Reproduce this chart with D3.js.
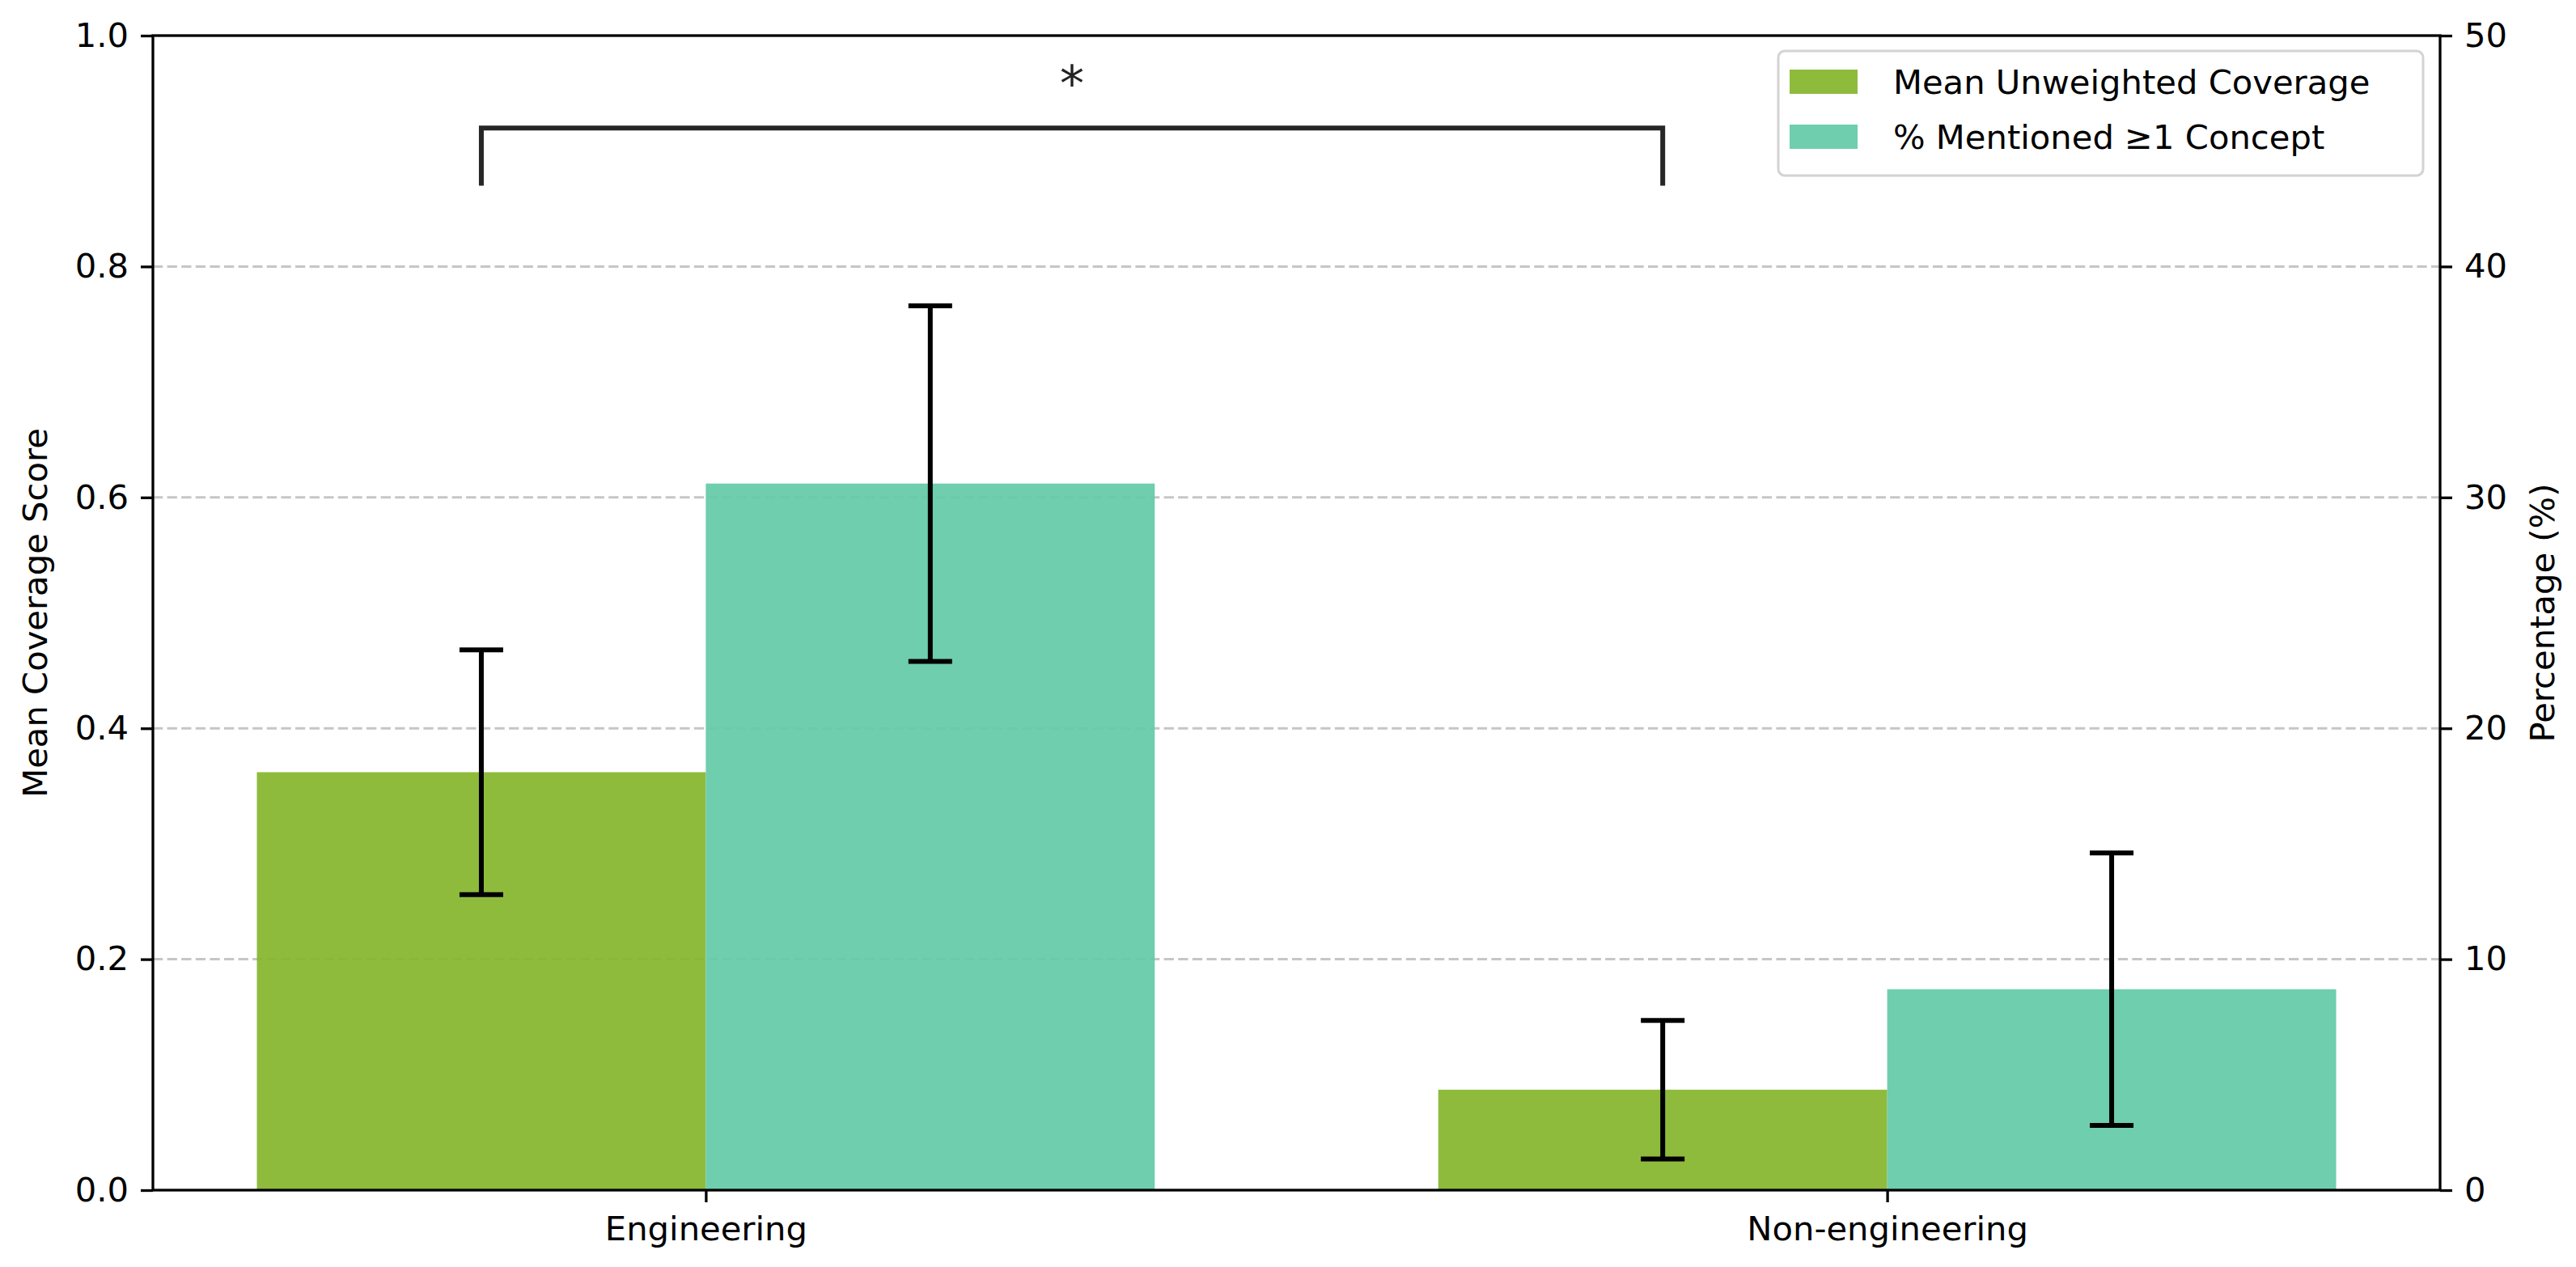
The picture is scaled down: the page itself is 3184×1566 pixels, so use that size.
<!DOCTYPE html>
<html>
<head>
<meta charset="utf-8">
<script src="https://cdn.jsdelivr.net/npm/d3@7"></script>
<style>
  body { margin: 0; background: #fff; }
  text { font-family: "DejaVu Sans", sans-serif; }
</style>
</head>
<body>
<svg id="chart" width="3184" height="1566"></svg>
<script>
// values
var categories = ["Engineering", "Non-engineering"];
var seriesNames = ["Mean Unweighted Coverage", "% Mentioned \u22651 Concept"];
var coverageMean = [0.362, 0.087];
var coverageErr = [0.106, 0.060];
var mentionedPct = [30.6, 8.7];
var mentionedErr = [7.7, 5.9];
var leftTicks = [0, 0.2, 0.4, 0.6, 0.8, 1.0];
var rightTicks = [0, 10, 20, 30, 40, 50];
var sigBracketTop = 0.92, sigBracketLeg = 0.87, sigLabel = "*";

var colGreen = "#86b52d", colTeal = "#62caa6";
var barW = 0.38;
var fs = 41.7;

var svg = d3.select("#chart");
var W = 3184, H = 1566;
var m = {left: 189, right: W - 3016, top: 44, bottom: H - 1471};

var x = d3.scaleLinear()
    .domain([-barW - 0.088, categories.length - 1 + barW + 0.088])
    .range([m.left, W - m.right]);
var yL = d3.scaleLinear().domain([0, 1]).range([H - m.bottom, m.top]);
var yR = d3.scaleLinear().domain([0, 50]).range([H - m.bottom, m.top]);

// grid
svg.append("g").selectAll("line").data(leftTicks.slice(1, -1)).enter().append("line")
    .attr("x1", m.left).attr("x2", W - m.right)
    .attr("y1", function(d) { return yL(d); }).attr("y2", function(d) { return yL(d); })
    .attr("stroke", "#c6c6c6").attr("stroke-width", 3)
    .attr("stroke-dasharray", "12.3,5.3");

// bars
var g = svg.append("g");
categories.forEach(function(c, i) {
    g.append("rect")
        .attr("x", x(i - barW)).attr("width", x(i) - x(i - barW))
        .attr("y", yL(coverageMean[i])).attr("height", yL(0) - yL(coverageMean[i]))
        .attr("fill", colGreen).attr("fill-opacity", 0.92);
    g.append("rect")
        .attr("x", x(i)).attr("width", x(i + barW) - x(i))
        .attr("y", yR(mentionedPct[i])).attr("height", yR(0) - yR(mentionedPct[i]))
        .attr("fill", colTeal).attr("fill-opacity", 0.92);
});

// error bars
function errBar(cx, y0, y1) {
    var cap = 27;
    g.append("line").attr("x1", cx).attr("x2", cx).attr("y1", y0).attr("y2", y1)
        .attr("stroke", "#000").attr("stroke-width", 6);
    [y0, y1].forEach(function(yy) {
        g.append("line").attr("x1", cx - cap).attr("x2", cx + cap).attr("y1", yy).attr("y2", yy)
            .attr("stroke", "#000").attr("stroke-width", 6);
    });
}
categories.forEach(function(c, i) {
    errBar(x(i - barW / 2), yL(coverageMean[i] - coverageErr[i]), yL(coverageMean[i] + coverageErr[i]));
    errBar(x(i + barW / 2), yR(mentionedPct[i] - mentionedErr[i]), yR(mentionedPct[i] + mentionedErr[i]));
});

// significance bracket between the coverage bars
var bx0 = x(0 - barW / 2), bx1 = x(1 - barW / 2);
svg.append("path")
    .attr("d", "M" + bx0 + "," + yL(sigBracketLeg) + "V" + yL(sigBracketTop) +
        "H" + bx1 + "V" + yL(sigBracketLeg))
    .attr("fill", "none").attr("stroke", "#262626").attr("stroke-width", 6);
svg.append("text")
    .attr("x", (bx0 + bx1) / 2).attr("y", yL(0.93) - 0.33 * 60)
    .attr("text-anchor", "middle").attr("font-size", 60).attr("fill", "#222")
    .text(sigLabel);

// axes
function styleAxis(sel) {
    sel.selectAll("text").attr("font-size", fs).attr("fill", "#000")
        .style("font-family", "'DejaVu Sans', sans-serif");
    sel.selectAll("line").attr("stroke", "#000").attr("stroke-width", 3.3);
    sel.select(".domain").remove();
}
svg.append("g").attr("transform", "translate(" + m.left + ",0)")
    .call(d3.axisLeft(yL).tickValues(leftTicks).tickFormat(d3.format(".1f")).tickSize(15).tickPadding(15))
    .call(styleAxis);
svg.append("g").attr("transform", "translate(" + (W - m.right) + ",0)")
    .call(d3.axisRight(yR).tickValues(rightTicks).tickFormat(d3.format("d")).tickSize(15).tickPadding(15))
    .call(styleAxis);
svg.append("g").attr("transform", "translate(0," + (H - m.bottom) + ")")
    .call(d3.axisBottom(x).tickValues(d3.range(categories.length))
        .tickFormat(function(d) { return categories[d]; }).tickSize(15).tickPadding(17))
    .call(styleAxis);

// frame
svg.append("rect").attr("x", m.left).attr("y", m.top)
    .attr("width", W - m.left - m.right).attr("height", H - m.top - m.bottom)
    .attr("fill", "none").attr("stroke", "#000").attr("stroke-width", 3.3);

// axis titles
var midY = (m.top + H - m.bottom) / 2;
svg.append("text").attr("transform", "translate(43," + midY + ") rotate(-90)")
    .attr("text-anchor", "middle").attr("dominant-baseline", "central")
    .attr("font-size", fs).text("Mean Coverage Score");
svg.append("text").attr("transform", "translate(3142," + midY + ") rotate(-90)")
    .attr("text-anchor", "middle").attr("dominant-baseline", "central")
    .attr("font-size", fs).text("Percentage (%)");

// legend
var lgX = 2198, lgY = 63, lgW = W - m.right - 21 - lgX, lgH = 154;
var lg = svg.append("g");
lg.append("rect").attr("x", lgX).attr("y", lgY).attr("width", lgW).attr("height", lgH)
    .attr("rx", 8).attr("fill", "#fff").attr("fill-opacity", 0.8)
    .attr("stroke", "#d3d3d3").attr("stroke-width", 3);
seriesNames.forEach(function(s, i) {
    var cy = lgY + 38 + i * 68;
    lg.append("rect").attr("x", lgX + 14).attr("y", cy - 15).attr("width", 84).attr("height", 30)
        .attr("fill", i === 0 ? colGreen : colTeal).attr("fill-opacity", 0.92);
    lg.append("text").attr("x", lgX + 142).attr("y", cy).attr("dominant-baseline", "central")
        .attr("font-size", fs).attr("fill", "#000").text(s);
});
</script>
</body>
</html>
